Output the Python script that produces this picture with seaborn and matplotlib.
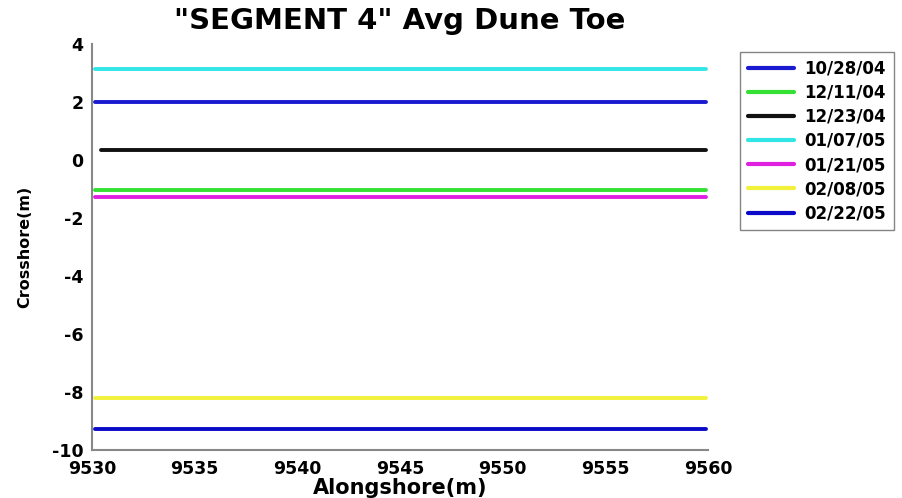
import matplotlib
matplotlib.use("Agg")
import matplotlib.pyplot as plt
import seaborn as sns
import pandas as pd

dates = ["10/28/04", "12/11/04", "12/23/04", "01/07/05", "01/21/05", "02/08/05", "02/22/05"]
crossshore = [2.0, -1.03, 0.34, 3.12, -1.28, -8.2, -9.28]
x_start = [9530.15, 9530.15, 9530.45, 9530.15, 9530.15, 9530.15, 9530.15]
x_end = [9559.9, 9559.9, 9559.9, 9559.9, 9559.9, 9559.9, 9559.9]
colors = ["#1a1ad0", "#33e033", "#111111", "#33e6e6", "#e020e0", "#f2f23a", "#0a0ac8"]

rows = []
for d, y, x0, x1 in zip(dates, crossshore, x_start, x_end):
    rows.append({"date": d, "x": x0, "y": y})
    rows.append({"date": d, "x": x1, "y": y})
df = pd.DataFrame(rows)

sns.set_style("white")
plt.rcParams["font.family"] = ["DejaVu Sans"]
plt.rcParams["axes.unicode_minus"] = False
plt.rcParams["text.color"] = "black"
plt.rcParams["xtick.labelcolor"] = "black"
plt.rcParams["ytick.labelcolor"] = "black"
plt.rcParams["axes.labelcolor"] = "black"

fig = plt.figure(figsize=(9.02, 4.98), dpi=100)
ax = fig.add_axes([0.102, 0.096, 0.683, 0.816])
sns.lineplot(data=df, x="x", y="y", hue="date", hue_order=dates,
             palette=colors, linewidth=2.8, ax=ax, sort=False, estimator=None)

ax.set_xlim(9530, 9560)
ax.set_ylim(-10, 4)
ax.set_xticks([9530, 9535, 9540, 9545, 9550, 9555, 9560])
ax.set_yticks([-10, -8, -6, -4, -2, 0, 2, 4])
for s in ["top", "right"]:
    ax.spines[s].set_visible(False)
for s in ["left", "bottom"]:
    ax.spines[s].set_color("#888888")
    ax.spines[s].set_linewidth(1.5)
ax.tick_params(direction="in", length=4, color="#888888", labelsize=12.5)
ax.tick_params(axis="x", pad=7)
ax.tick_params(axis="y", pad=6)
for lab in ax.get_xticklabels() + ax.get_yticklabels():
    lab.set_fontweight("bold")
ax.set_xlabel("Alongshore(m)", fontsize=15, fontweight="bold", va="center")
ax.set_ylabel("Crosshore(m)", fontsize=11.5, fontweight="bold", va="center")
ax.xaxis.set_label_coords(0.5, -0.094)
ax.yaxis.set_label_coords(-0.109, 0.5)
ax.set_title('"SEGMENT 4" Avg Dune Toe', fontsize=21, fontweight="bold", pad=11,
             color="black")

leg = ax.legend(loc="upper left", bbox_to_anchor=(1.052, 0.98), frameon=True,
                fontsize=12, handlelength=2.8, labelspacing=0.37,
                borderpad=0.45, handletextpad=0.6, borderaxespad=0.0,
                fancybox=False)
leg.get_frame().set_edgecolor("#666666")
leg.get_frame().set_linewidth(1.0)
for t in leg.get_texts():
    t.set_fontweight("bold")
for h in leg.get_lines():
    h.set_linewidth(3.0)

fig.savefig("out.png", dpi=100)
